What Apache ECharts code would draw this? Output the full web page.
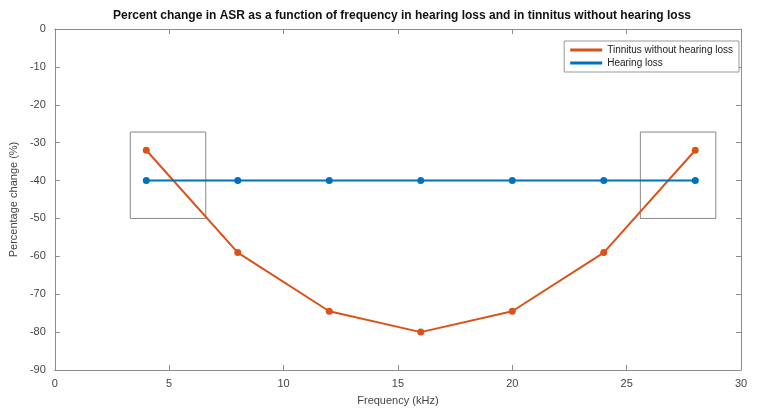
<!DOCTYPE html>
<html>
<head>
<meta charset="utf-8">
<script src="https://cdn.jsdelivr.net/npm/echarts@6/dist/echarts.min.js"></script>
<style>html,body{margin:0;padding:0;background:#fff}#c{width:765px;height:412px}</style>
</head>
<body>
<div id="c"></div>
<script>
const frequencies = [4, 8, 12, 16, 20, 24, 28];
const tinnitusValues = [-32, -59, -74.5, -80, -74.5, -59, -32];
const hearingLossValues = [-40, -40, -40, -40, -40, -40, -40];
const seriesNames = ['Tinnitus without hearing loss', 'Hearing loss'];
const highlightBoxes = [
  [[3.3, -27.2], [6.6, -50]],
  [[25.6, -27.2], [28.9, -50]]
];
const titleText = 'Percent change in ASR as a function of frequency in hearing loss and in tinnitus without hearing loss';

const font = 'Liberation Sans, Arial, sans-serif';
const axisGray = '#8c8c8c';
const labelColor = '#444';

const chart = echarts.init(document.getElementById('c'), null, {renderer: 'canvas'});
const toPairs = (xs, ys) => xs.map((x, i) => [x, ys[i]]);

function baseAxis() {
  return {
    axisLine: {show: true, onZero: false, lineStyle: {color: axisGray, width: 1}},
    axisTick: {show: true, inside: true, length: 5, lineStyle: {color: axisGray}},
    splitLine: {show: false}
  };
}

chart.setOption({
  animation: false,
  backgroundColor: '#fff',
  title: {
    text: titleText, left: 397, top: 5, textAlign: 'center',
    textStyle: {fontFamily: font, fontSize: 12, fontWeight: 'bold', color: '#111'}
  },
  legend: {
    orient: 'vertical', right: 26, top: 41,
    backgroundColor: '#fff', borderColor: '#999', borderWidth: 1,
    padding: [4, 6, 4, 6], itemGap: 3, itemWidth: 32, itemHeight: 3,
    textStyle: {fontFamily: font, fontSize: 10, color: '#222'},
    data: seriesNames.map(n => ({name: n, icon: 'rect'}))
  },
  grid: {left: 54, right: 24, top: 29, bottom: 42, containLabel: false},
  xAxis: [
    Object.assign(baseAxis(), {
      type: 'value', min: 0, max: 30, interval: 5, position: 'bottom',
      name: 'Frequency (kHz)', nameLocation: 'middle', nameGap: 25,
      nameTextStyle: {fontFamily: font, fontSize: 11, color: labelColor},
      axisLabel: {fontFamily: font, fontSize: 11, color: labelColor, margin: 8}
    }),
    Object.assign(baseAxis(), {
      type: 'value', min: 0, max: 30, interval: 5, position: 'top',
      axisLabel: {show: false}
    })
  ],
  yAxis: [
    Object.assign(baseAxis(), {
      type: 'value', min: -90, max: 0, interval: 10, position: 'left',
      name: 'Percentage change (%)', nameLocation: 'middle', nameGap: 33,
      nameTextStyle: {fontFamily: font, fontSize: 11, color: labelColor},
      axisLabel: {fontFamily: font, fontSize: 11, color: labelColor, margin: 9}
    }),
    Object.assign(baseAxis(), {
      type: 'value', min: -90, max: 0, interval: 10, position: 'right',
      axisLabel: {show: false}
    })
  ],
  series: [
    {
      name: seriesNames[0], type: 'line', xAxisIndex: 0, yAxisIndex: 0,
      data: toPairs(frequencies, tinnitusValues),
      color: '#D95319',
      lineStyle: {width: 2, color: '#D95319'},
      symbol: 'circle', symbolSize: 7,
      itemStyle: {color: '#D95319'},
      z: 3,
      markArea: {
        silent: true,
        itemStyle: {color: 'rgba(0,0,0,0)', borderColor: '#888', borderWidth: 1},
        data: highlightBoxes.map(b => [{coord: b[0]}, {coord: b[1]}])
      }
    },
    {
      name: seriesNames[1], type: 'line', xAxisIndex: 0, yAxisIndex: 0,
      data: toPairs(frequencies, hearingLossValues),
      color: '#0072BD',
      lineStyle: {width: 2, color: '#0072BD'},
      symbol: 'circle', symbolSize: 7,
      itemStyle: {color: '#0072BD'},
      z: 4
    }
  ]
});
</script>
</body>
</html>
